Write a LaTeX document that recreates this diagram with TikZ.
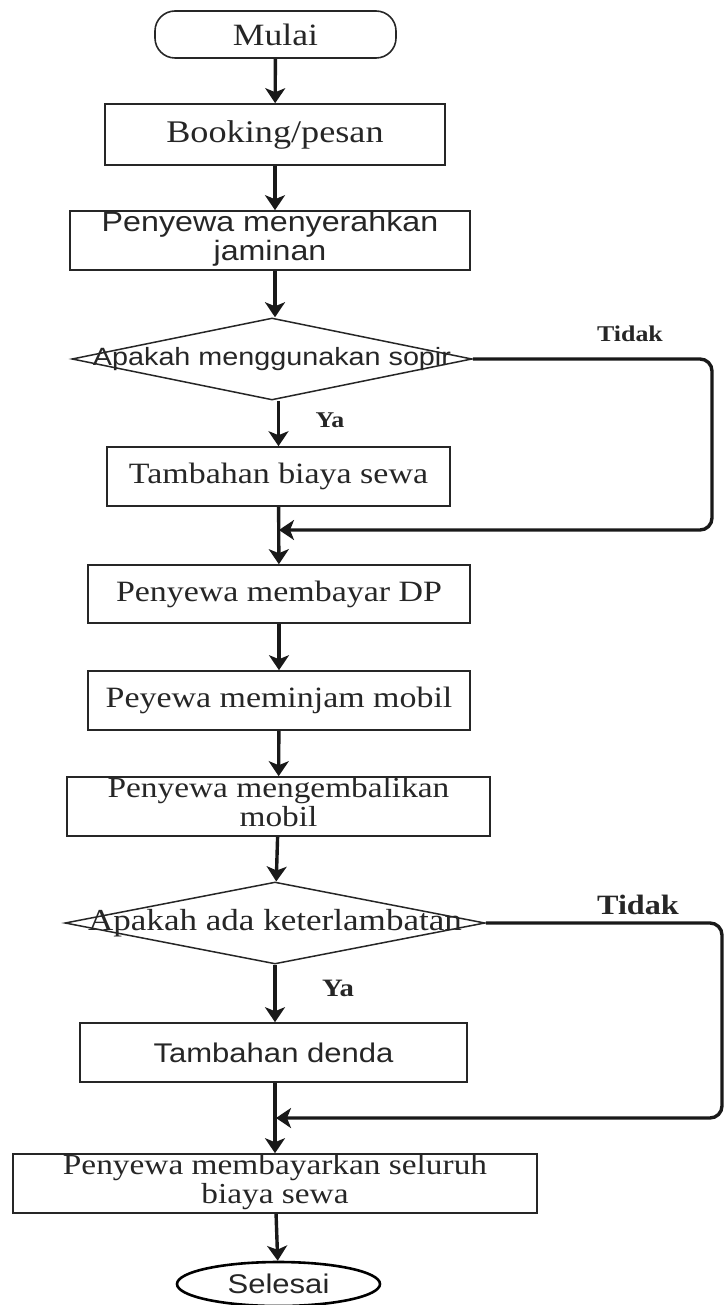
\documentclass[tikz,border=0pt]{standalone}
\usepackage{fontspec}
\setmainfont{Liberation Serif}
\setsansfont{Liberation Sans}
\usepackage{graphicx}
\usetikzlibrary{shapes.geometric,arrows.meta}
\newcommand{\sx}[1]{\scalebox{1.15}[1]{#1}}
\newcommand{\fsz}[1]{\fontsize{#1}{#1}\selectfont}
\newcommand{\twol}[2]{\begin{tabular}{@{}c@{}}#1\\#2\end{tabular}}
\begin{document}
\begin{tikzpicture}[x=1pt,y=-1pt,
  box/.style={draw=black!85, line width=1.6pt, rectangle, inner sep=0pt, text=black!85},
  dia/.style={draw=black!85, line width=1.5pt, diamond, inner sep=0pt, text=black!85},
  ell/.style={draw=black, line width=2.6pt, ellipse, inner sep=0pt, text=black!85},
  conn/.style={line width=3.4pt, draw=black!90, -{Stealth[length=15pt,width=20pt,inset=4pt]}},
  lbl/.style={text=black!85, inner sep=0pt}]
\useasboundingbox (0,0) rectangle (725,1305);

\node[box, rounded corners=20pt, minimum width=241, minimum height=47] (mulai) at (275.5,34.5)
  {\fsz{31}\sx{Mulai}};
\node[box, minimum width=340, minimum height=61] (book) at (275,134.5)
  {\fsz{31.5}\sx{Booking/pesan}};
\node[box, minimum width=400, minimum height=59] (jam) at (270,240.5)
  {\fontsize{28}{28.5}\selectfont\sffamily\sx{\twol{Penyewa menyerahkan}{jaminan}}};
\node[dia, minimum width=400, minimum height=82] (d1) at (272,359)
  {\makebox[0pt]{\fsz{25}\sffamily\sx{Apakah menggunakan sopir}}};
\node[box, minimum width=343, minimum height=59] (tb) at (278.5,476.5)
  {\fsz{29.5}\sx{Tambahan biaya sewa}};
\node[box, minimum width=382, minimum height=58] (dp) at (279,594)
  {\fsz{29.5}\sx{Penyewa membayar DP}};
\node[box, minimum width=382, minimum height=59] (pinjam) at (279,700.5)
  {\fsz{29.5}\sx{Peyewa meminjam mobil}};
\node[box, minimum width=423, minimum height=59] (kembali) at (278.5,806.5)
  {\fontsize{29}{28.5}\selectfont\sx{\twol{Penyewa mengembalikan}{mobil}}};
\node[dia, minimum width=420, minimum height=82] (d2) at (275,923)
  {\makebox[0pt]{\fsz{30.5}\sx{Apakah ada keterlambatan}}};
\node[box, minimum width=387, minimum height=59] (denda) at (273.5,1052.5)
  {\fsz{27}\sffamily\sx{Tambahan denda}};
\node[box, minimum width=524, minimum height=59] (bayar) at (275,1183.5)
  {\fontsize{29}{28.5}\selectfont\sx{\twol{Penyewa membayarkan seluruh}{biaya sewa}}};
\node[ell, minimum width=203, minimum height=44] (selesai) at (278.5,1284)
  {\fsz{27}\sffamily\sx{Selesai}};

\node[lbl] (tidak1) at (630,334) {\fsz{22.5}\bfseries\sx{Tidak}};
\node[lbl] (ya1) at (330,420) {\fsz{22.5}\bfseries\sx{Ya}};
\node[lbl] (tidak2) at (638,905) {\fsz{28}\bfseries\sx{Tidak}};
\node[lbl] (ya2) at (338,988) {\fsz{25}\bfseries\sx{Ya}};

\coordinate (m1) at (279,530);
\coordinate (m2) at (276,1118);
\coordinate (r1a) at (712,359);
\coordinate (r1b) at (712,530);
\coordinate (r2a) at (722,923);
\coordinate (r2b) at (722,1118);

\draw[conn] (mulai) -- (book);
\draw[conn] (book) -- (jam.north -| book);
\draw[conn] (jam.south -| book) -- (d1.north -| book);
\draw[conn] (d1.south -| tb) -- (tb);
\draw[conn] (tb) -- (dp);
\draw[conn] (dp) -- (pinjam);
\draw[conn] (pinjam) -- (kembali);
\draw[conn] (kembali) -- (d2);
\draw[conn] (d2) -- (denda.north -| d2);
\draw[conn] (denda.south -| d2) -- (bayar);
\draw[conn] (bayar) -- (selesai);
\draw[conn, rounded corners=12pt] (d1.east) -- (r1a) -- (r1b) -- (m1);
\draw[conn, rounded corners=12pt] (d2.east) -- (r2a) -- (r2b) -- (m2);
\end{tikzpicture}
\end{document}
